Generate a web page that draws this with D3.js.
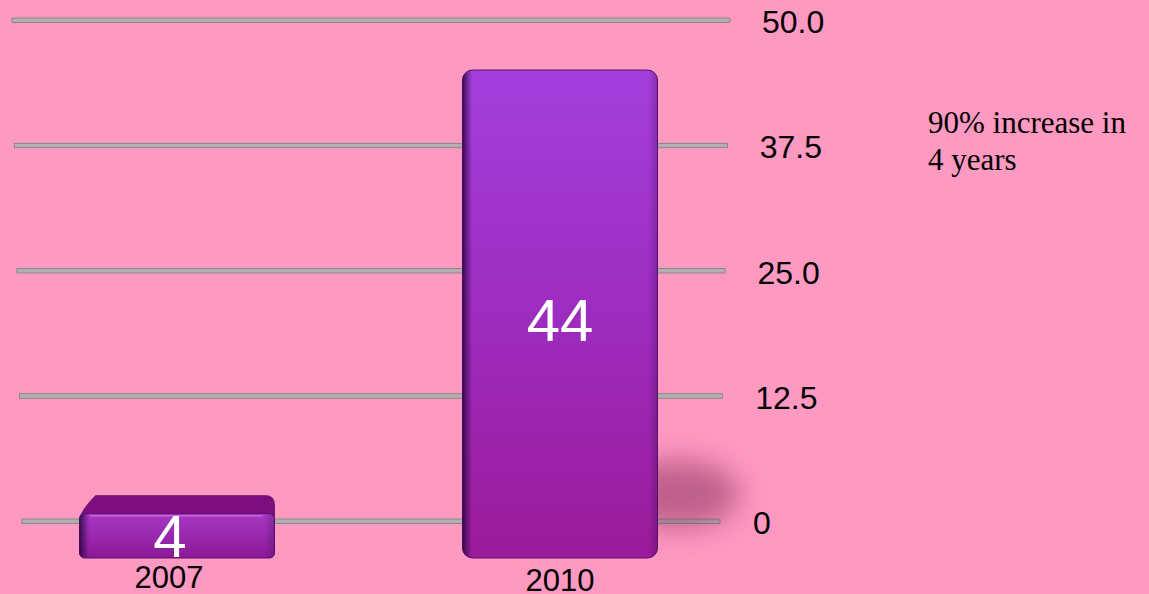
<!DOCTYPE html>
<html lang="en">
<head>
  <meta charset="UTF-8">
  <title>Increase chart</title>
  <script src="https://d3js.org/d3.v7.min.js"></script>
  <style>
    body { margin: 0; background: #fe99c1; }
    svg { display: block; }
  </style>
</head>
<body>
  <div id="chart"></div>
  <script>
    const years = ["2007", "2010"];
    const values = [4, 44];
    const ticks = [0, 12.5, 25, 37.5, 50];
    const tickLabels = ["0", "12.5", "25.0", "37.5", "50.0"];
    const note = ["90% increase in", "4 years"];

    const W = 1149, H = 594;
    const svg = d3.select("#chart").append("svg")
      .attr("width", W).attr("height", H);

    const defs = svg.append("defs");
    const g1 = defs.append("linearGradient").attr("id", "barFill")
      .attr("x1", 0).attr("y1", 0).attr("x2", 0).attr("y2", 1);
    g1.append("stop").attr("offset", "0%").attr("stop-color", "#a53fdc");
    g1.append("stop").attr("offset", "50%").attr("stop-color", "#9d2cc0");
    g1.append("stop").attr("offset", "100%").attr("stop-color", "#9b1b98");
    const g2 = defs.append("linearGradient").attr("id", "edge")
      .attr("x1", 0).attr("y1", 0).attr("x2", 1).attr("y2", 0);
    g2.append("stop").attr("offset", "0%").attr("stop-color", "#2a0640").attr("stop-opacity", 0.9);
    g2.append("stop").attr("offset", "5%").attr("stop-color", "#3a0a50").attr("stop-opacity", 0);
    g2.append("stop").attr("offset", "95%").attr("stop-color", "#3a0a50").attr("stop-opacity", 0);
    g2.append("stop").attr("offset", "100%").attr("stop-color", "#3a0a50").attr("stop-opacity", 0.3);
    const g3 = defs.append("linearGradient").attr("id", "smallFill")
      .attr("x1", 0).attr("y1", 0).attr("x2", 0).attr("y2", 1);
    g3.append("stop").attr("offset", "0%").attr("stop-color", "#a638c4");
    g3.append("stop").attr("offset", "100%").attr("stop-color", "#8c1896");
    defs.append("filter").attr("id", "blur")
      .attr("x", "-50%").attr("y", "-50%").attr("width", "200%").attr("height", "200%")
      .append("feGaussianBlur").attr("stdDeviation", 14);

    // grid scale (back plane)
    const y = d3.scaleLinear().domain([0, 50]).range([521, 20]);
    // bar scale (front plane, larger because of perspective)
    const yBar = d3.scaleLinear().domain([0, 44]).range([558, 70]);
    const x = d3.scalePoint().domain(years).range([177, 560]);
    const barW = 195;

    // grid lines
    svg.append("g").selectAll("rect")
      .data(ticks).join("rect")
      .attr("x", d => 22 - d * 0.2)
      .attr("width", d => 698 + d * 0.4)
      .attr("y", d => y(d) - 2).attr("height", 4.5)
      .attr("fill", "#b0b0b0").attr("stroke", "#787878").attr("stroke-width", 0.7);

    // tick labels
    svg.append("g").selectAll("text")
      .data(ticks).join("text")
      .attr("x", d => 753 + d * 0.18).attr("y", d => y(d) + 2)
      .attr("dy", "0.35em")
      .attr("font-family", "Liberation Sans, Arial, sans-serif")
      .attr("font-size", 32).attr("fill", "#000")
      .text((d, i) => tickLabels[i]);

    const data = years.map((yr, i) => ({ yr, v: values[i] }));

    // shadow behind tall bar
    svg.append("g").selectAll("ellipse")
      .data(data.filter(d => d.v > 20)).join("ellipse")
      .attr("cx", d => x(d.yr) + barW / 2 + 20)
      .attr("cy", 494)
      .attr("rx", 62).attr("ry", 34)
      .attr("fill", "#8a3060").attr("opacity", 0.55)
      .attr("filter", "url(#blur)");

    const bars = svg.append("g").selectAll("g")
      .data(data).join("g");

    // top face of the short bar (seen from above)
    bars.filter(d => d.v < 20).append("path")
      .attr("d", d => {
        const l = x(d.yr) - barW / 2, r = x(d.yr) + barW / 2, t = yBar(d.v);
        return `M${l},${t + 6} Q${l + 2},${t - 4} ${l + 16},${t - 18} L${r - 8},${t - 18} Q${r},${t - 18} ${r},${t - 8} L${r},${t + 4} Z`;
      })
      .attr("fill", "#7d0e80").attr("stroke", "#5a0a60").attr("stroke-width", 0.8);

    bars.append("rect")
      .attr("x", d => x(d.yr) - barW / 2)
      .attr("y", d => yBar(d.v))
      .attr("width", barW)
      .attr("height", d => yBar(0) - yBar(d.v))
      .attr("rx", d => d.v > 20 ? 10 : 5)
      .attr("fill", d => d.v > 20 ? "url(#barFill)" : "url(#smallFill)")
      .attr("stroke", "#5a1070").attr("stroke-width", 1);
    bars.append("rect")
      .attr("x", d => x(d.yr) - barW / 2)
      .attr("y", d => yBar(d.v))
      .attr("width", barW)
      .attr("height", d => yBar(0) - yBar(d.v))
      .attr("rx", d => d.v > 20 ? 10 : 5)
      .attr("fill", "url(#edge)");
    // highlight line on the short bar
    bars.filter(d => d.v < 20).append("line")
      .attr("x1", d => x(d.yr) - barW / 2 + 10).attr("x2", d => x(d.yr) + barW / 2 - 12)
      .attr("y1", d => yBar(d.v) + 2).attr("y2", d => yBar(d.v) + 2)
      .attr("stroke", "#d070e0").attr("stroke-width", 1.5).attr("opacity", 0.8);

    // value labels
    bars.append("text")
      .attr("x", (d, i) => x(d.yr) - 7 + i * 7)
      .attr("y", d => d.v > 20 ? 341 : 557)
      .attr("text-anchor", "middle")
      .attr("font-family", "Liberation Sans, Arial, sans-serif")
      .attr("font-size", 60).attr("fill", "#fff")
      .text(d => d.v);

    // category labels
    svg.append("g").selectAll("text")
      .data(years).join("text")
      .attr("x", (d, i) => x(d) - 8 + i * 8)
      .attr("y", (d, i) => 588 + i * 3)
      .attr("text-anchor", "middle")
      .attr("font-family", "Liberation Sans, Arial, sans-serif")
      .attr("font-size", 31).attr("fill", "#000")
      .text(d => d);

    // note
    svg.append("text")
      .attr("font-family", "Liberation Serif, Times New Roman, serif")
      .attr("font-size", 31).attr("fill", "#000")
      .selectAll("tspan").data(note).join("tspan")
      .attr("x", 928).attr("y", (d, i) => 133 + i * 37)
      .text(d => d);
  </script>
</body>
</html>
